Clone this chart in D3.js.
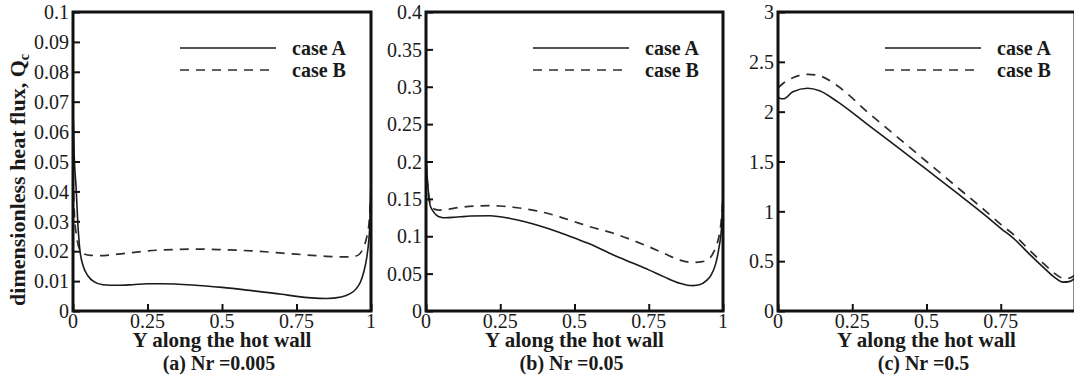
<!DOCTYPE html>
<html>
<head>
<meta charset="utf-8">
<script src="https://cdn.jsdelivr.net/npm/d3@7"></script>
<style>
  html, body { margin: 0; padding: 0; background: #fff; }
  svg { display: block; }
  text { font-family: "Liberation Serif", "Times New Roman", serif; fill: #1a1a1a; }
</style>
</head>
<body>
<svg id="chart" width="1074" height="378"></svg>
<script>
// ---------- DATA ----------
const xTickValues = [0, 0.25, 0.5, 0.75, 1];
const xTickLabels = ["0", "0.25", "0.5", "0.75", "1"];

// (a) Nr = 0.005
const aYTicks = [0, 0.01, 0.02, 0.03, 0.04, 0.05, 0.06, 0.07, 0.08, 0.09, 0.1];
const aYLabels = ["0", "0.01", "0.02", "0.03", "0.04", "0.05", "0.06", "0.07", "0.08", "0.09", "0.1"];
const aCaseA_Y = [0, 0.004, 0.01, 0.017, 0.023, 0.035, 0.05, 0.07, 0.1, 0.15, 0.2, 0.25, 0.3, 0.4, 0.5, 0.6, 0.7, 0.75, 0.8, 0.85, 0.9, 0.93, 0.95, 0.965, 0.975, 0.986, 0.992, 0.997, 1];
const aCaseA_Q = [0.068, 0.052, 0.042, 0.028, 0.0205, 0.0148, 0.0118, 0.0098, 0.0088, 0.0086, 0.0088, 0.0091, 0.0091, 0.0087, 0.0079, 0.0068, 0.0056, 0.0049, 0.0044, 0.0042, 0.0047, 0.0058, 0.0074, 0.0098, 0.0128, 0.018, 0.023, 0.031, 0.045];
const aCaseB_Y = [0, 0.005, 0.012, 0.023, 0.04, 0.06, 0.09, 0.15, 0.25, 0.35, 0.42, 0.5, 0.6, 0.75, 0.85, 0.92, 0.95, 0.974, 0.985, 0.993, 1];
const aCaseB_Q = [0.045, 0.032, 0.025, 0.0205, 0.019, 0.0186, 0.0185, 0.019, 0.0201, 0.0206, 0.0207, 0.0205, 0.0201, 0.019, 0.0183, 0.0181, 0.0184, 0.021, 0.0244, 0.029, 0.04];

// (b) Nr = 0.05
const bYTicks = [0, 0.05, 0.1, 0.15, 0.2, 0.25, 0.3, 0.35, 0.4];
const bYLabels = ["0", "0.05", "0.1", "0.15", "0.2", "0.25", "0.3", "0.35", "0.4"];
const bCaseA_Y = [0, 0.004, 0.008, 0.0135, 0.025, 0.036, 0.05, 0.064, 0.09, 0.115, 0.15, 0.215, 0.25, 0.3, 0.373, 0.45, 0.5, 0.55, 0.631, 0.7, 0.75, 0.8, 0.855, 0.88, 0.9, 0.92, 0.945, 0.96, 0.976, 0.987, 0.996, 1];
const bCaseA_Q = [0.21, 0.18, 0.16, 0.142, 0.133, 0.128, 0.1255, 0.1248, 0.1252, 0.126, 0.127, 0.1275, 0.126, 0.1225, 0.115, 0.105, 0.0975, 0.09, 0.075, 0.0635, 0.055, 0.046, 0.037, 0.0345, 0.034, 0.035, 0.041, 0.048, 0.064, 0.086, 0.117, 0.16];
const bCaseB_Y = [0, 0.005, 0.01, 0.019, 0.03, 0.047, 0.07, 0.115, 0.17, 0.215, 0.25, 0.3, 0.373, 0.45, 0.5, 0.55, 0.631, 0.7, 0.75, 0.8, 0.855, 0.9, 0.93, 0.955, 0.97, 0.98, 0.993, 1];
const bCaseB_Q = [0.2, 0.17, 0.152, 0.1395, 0.136, 0.135, 0.136, 0.1387, 0.1405, 0.1409, 0.1405, 0.1385, 0.134, 0.126, 0.1195, 0.113, 0.104, 0.094, 0.086, 0.0775, 0.068, 0.065, 0.066, 0.0705, 0.08, 0.09, 0.117, 0.15];

// (c) Nr = 0.5
const cYTicks = [0, 0.5, 1, 1.5, 2, 2.5, 3];
const cYLabels = ["0", "0.5", "1", "1.5", "2", "2.5", "3"];
const cCaseA_Y = [0, 0.01, 0.02, 0.05, 0.1, 0.14, 0.2, 0.3, 0.4, 0.5, 0.6, 0.7, 0.75, 0.8, 0.85, 0.9, 0.93, 0.96, 0.98, 1];
const cCaseA_Q = [2.15, 2.13, 2.13, 2.2, 2.235, 2.21, 2.1, 1.875, 1.65, 1.42, 1.19, 0.955, 0.83, 0.71, 0.56, 0.42, 0.34, 0.29, 0.295, 0.33];
const cCaseB_Y = [0, 0.02, 0.05, 0.1, 0.14, 0.2, 0.3, 0.4, 0.5, 0.6, 0.7, 0.75, 0.8, 0.85, 0.9, 0.93, 0.96, 0.98, 1];
const cCaseB_Q = [2.24, 2.29, 2.34, 2.375, 2.36, 2.26, 2.0, 1.75, 1.5, 1.25, 1.0, 0.87, 0.75, 0.6, 0.46, 0.38, 0.33, 0.33, 0.36];

const legendLabels = ["case A", "case B"];
const xTitle = "Y along the hot wall";
const panelCaptions = ["(a) Nr =0.005", "(b) Nr =0.05", "(c) Nr =0.5"];

// ---------- LAYOUT ----------
const W = 1074;
const svg = d3.select("#chart");
const plotTop = 12, plotBottom = 311;
const panels = [
  { left: 73,  right: 371,  yMax: 0.1, ticks: aYTicks, labels: aYLabels, A: [aCaseA_Y, aCaseA_Q], B: [aCaseB_Y, aCaseB_Q], caption: panelCaptions[0] },
  { left: 426, right: 723,  yMax: 0.4, ticks: bYTicks, labels: bYLabels, A: [bCaseA_Y, bCaseA_Q], B: [bCaseB_Y, bCaseB_Q], caption: panelCaptions[1] },
  { left: 778, right: 1075, yMax: 3,   ticks: cYTicks, labels: cYLabels, A: [cCaseA_Y, cCaseA_Q], B: [cCaseB_Y, cCaseB_Q], caption: panelCaptions[2] }
];

panels.forEach((p, i) => {
  const x = d3.scaleLinear().domain([0, 1]).range([p.left, p.right]);
  const y = d3.scaleLinear().domain([0, p.yMax]).range([plotBottom, plotTop]);
  const g = svg.append("g");

  const clipId = "clip" + i;
  svg.append("clipPath").attr("id", clipId)
    .append("rect").attr("x", p.left).attr("y", plotTop).attr("width", p.right - p.left).attr("height", plotBottom - plotTop);

  const line = d3.line().x(d => x(d[0])).y(d => y(d[1])).curve(d3.curveMonotoneX);
  const toPts = s => s[0].map((v, k) => [v, s[1][k]]);

  // curves
  g.append("path").attr("clip-path", `url(#${clipId})`)
    .attr("d", line(toPts(p.B))).attr("fill", "none")
    .attr("stroke", "#2e2e2e").attr("stroke-width", 1.7).attr("stroke-dasharray", "9,7");
  g.append("path").attr("clip-path", `url(#${clipId})`)
    .attr("d", line(toPts(p.A))).attr("fill", "none")
    .attr("stroke", "#1a1a1a").attr("stroke-width", 1.6);

  // y axis (ticks inward)
  const yAxis = d3.axisRight(y).tickValues(p.ticks).tickSize(7).tickFormat("");
  const ya = g.append("g").attr("transform", `translate(${p.left},0)`).call(yAxis);
  ya.select(".domain").remove();
  ya.selectAll(".tick line").attr("stroke", "#111").attr("stroke-width", 2);
  g.selectAll(".ylab").data(p.ticks).enter().append("text")
    .attr("x", p.left - 4).attr("y", d => y(d)).attr("dy", "0.36em")
    .attr("text-anchor", "end").attr("font-size", 20)
    .text((d, k) => p.labels[k]);

  // x axis (ticks inward)
  const xAxis = d3.axisTop(x).tickValues(xTickValues).tickSize(7).tickFormat("");
  const xa = g.append("g").attr("transform", `translate(0,${plotBottom})`).call(xAxis);
  xa.select(".domain").remove();
  xa.selectAll(".tick line").attr("stroke", "#111").attr("stroke-width", 2);
  const visibleX = xTickValues.map((v, k) => ({ v, label: xTickLabels[k] })).filter(d => x(d.v) < W - 6);
  g.selectAll(".xlab").data(visibleX).enter().append("text")
    .attr("x", d => x(d.v)).attr("y", plotBottom + 17)
    .attr("text-anchor", "middle").attr("font-size", 20)
    .text(d => d.label);

  // frame
  g.append("rect").attr("x", p.left).attr("y", plotTop)
    .attr("width", p.right - p.left).attr("height", plotBottom - plotTop)
    .attr("fill", "none").attr("stroke", "#111").attr("stroke-width", 3);

  // legend
  const lx0 = p.left + 107, lx1 = p.left + 203, tx = p.left + 219;
  g.append("line").attr("x1", lx0).attr("x2", lx1).attr("y1", 48).attr("y2", 48)
    .attr("stroke", "#1a1a1a").attr("stroke-width", 1.6);
  g.append("line").attr("x1", lx0).attr("x2", lx1).attr("y1", 70).attr("y2", 70)
    .attr("stroke", "#2e2e2e").attr("stroke-width", 1.7).attr("stroke-dasharray", "9,7");
  g.append("text").attr("x", tx).attr("y", 55).attr("font-size", 20).attr("font-weight", "bold").text(legendLabels[0]);
  g.append("text").attr("x", tx).attr("y", 77).attr("font-size", 20).attr("font-weight", "bold").text(legendLabels[1]);

  // titles
  g.append("text").attr("x", (p.left + p.right) / 2).attr("y", 347)
    .attr("text-anchor", "middle").attr("font-size", 21).attr("font-weight", "bold").text(xTitle);
  g.append("text").attr("x", (p.left + p.right) / 2 - 3).attr("y", 370)
    .attr("text-anchor", "middle").attr("font-size", 20).attr("font-weight", "bold").text(p.caption);
});

// y-axis title
const yt = svg.append("text")
  .attr("transform", "translate(25,180) rotate(-90)")
  .attr("text-anchor", "middle").attr("font-size", 22).attr("font-weight", "bold");
yt.append("tspan").text("dimensionless heat flux, Q");
yt.append("tspan").attr("font-size", 14).attr("dy", 4).text("c");
</script>
</body>
</html>
